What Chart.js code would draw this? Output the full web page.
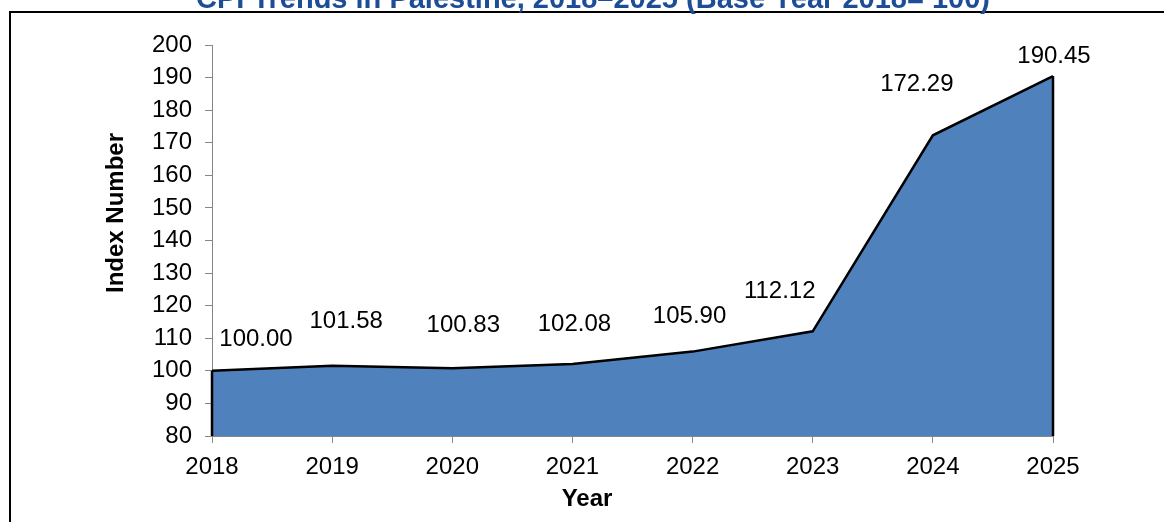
<!DOCTYPE html>
<html>
<head>
<meta charset="utf-8">
<script src="https://cdn.jsdelivr.net/npm/chart.js@4.4.1/dist/chart.umd.min.js"></script>
<style>
html,body{margin:0;padding:0;background:#ffffff;}
#wrap{width:1164px;height:522px;position:relative;overflow:hidden;}
canvas{display:block;}
</style>
</head>
<body>
<div id="wrap"><canvas id="c" width="1164" height="522"></canvas></div>
<script>
// ---- data ----
const years = ['2018','2019','2020','2021','2022','2023','2024','2025'];
const cpiValues = [100.00, 101.58, 100.83, 102.08, 105.90, 112.12, 172.29, 190.45];
const yTickMin = 80;
const yTickMax = 200;
const yTickStep = 10;
const chartTitle = 'CPI Trends in Palestine, 2018\u20132025 (Base Year 2018= 100)';
const xAxisTitle = 'Year';
const yAxisTitle = 'Index Number';

// ---- styling (label placement offsets, px relative to each point) ----
const labelOffsets = [[44,-31],[14,-44],[11,-43],[2,-40],[-3,-35],[-33,-40],[-16,-51],[1,-20]];
const FONT = "'Liberation Sans', Arial, sans-serif";

const overlay = {
  id: 'overlay',
  afterDatasetsDraw(chart) {
    const ctx = chart.ctx;
    const meta = chart.getDatasetMeta(0);
    const pts = meta.data;
    const yb = chart.scales.y.getPixelForValue(yTickMin);
    ctx.save();
    ctx.strokeStyle = '#000';
    ctx.lineWidth = 2.5;
    ctx.beginPath();
    ctx.moveTo(pts[0].x, pts[0].y);
    ctx.lineTo(pts[0].x, yb);
    ctx.moveTo(pts[pts.length-1].x, pts[pts.length-1].y);
    ctx.lineTo(pts[pts.length-1].x, yb);
    ctx.stroke();
    ctx.restore();
  },
  afterDraw(chart) {
    const ctx = chart.ctx;
    const meta = chart.getDatasetMeta(0);
    ctx.save();
    // data labels
    ctx.font = '24px ' + FONT;
    ctx.fillStyle = '#000';
    ctx.textAlign = 'center';
    ctx.textBaseline = 'middle';
    meta.data.forEach((p, i) => {
      const o = labelOffsets[i];
      ctx.fillText(cpiValues[i].toFixed(2), p.x + o[0], p.y + o[1]);
    });
    // axis titles
    ctx.font = 'bold 24px ' + FONT;
    ctx.fillText(xAxisTitle, 587, 499);
    ctx.save();
    ctx.translate(116, 213);
    ctx.rotate(-Math.PI/2);
    ctx.fillText(yAxisTitle, 0, 0);
    ctx.restore();
    // frame
    ctx.strokeStyle = '#000';
    ctx.lineWidth = 2;
    ctx.beginPath();
    ctx.moveTo(10, 522);
    ctx.lineTo(10, 12);
    ctx.lineTo(1164, 12);
    ctx.stroke();
    // main title (clipped at top)
    ctx.font = 'bold 29px ' + FONT;
    ctx.fillStyle = '#1C4D96';
    ctx.textBaseline = 'alphabetic';
    ctx.fillText(chartTitle, 593, 8);
    ctx.restore();
  }
};

new Chart(document.getElementById('c'), {
  type: 'line',
  data: {
    labels: years,
    datasets: [{
      data: cpiValues,
      fill: 'start',
      backgroundColor: '#4F81BD',
      borderColor: '#000000',
      borderWidth: 2.5,
      pointRadius: 0,
      tension: 0
    }]
  },
  options: {
    responsive: false,
    animation: false,
    devicePixelRatio: 1,
    layout: { padding: { left: 0, top: 45, right: 111, bottom: 0 } },
    plugins: { legend: { display: false }, tooltip: { enabled: false }, title: { display: false } },
    scales: {
      x: {
        type: 'category',
        offset: false,
        z: 1,
        grid: { display: true, drawOnChartArea: false, drawTicks: true, tickLength: 7, color: '#868686', lineWidth: 1 },
        border: { display: true, color: '#868686', width: 1 },
        ticks: { color: '#000', font: { family: FONT, size: 24 }, padding: 10, maxRotation: 0, autoSkip: false },
        afterFit: s => { s.height = 86; }
      },
      y: {
        min: yTickMin,
        max: yTickMax,
        grid: { display: true, drawOnChartArea: false, drawTicks: true, tickLength: 7, color: '#868686', lineWidth: 1 },
        border: { display: true, color: '#868686', width: 1 },
        ticks: { stepSize: yTickStep, color: '#000', font: { family: FONT, size: 24 }, padding: 13 },
        afterFit: s => { s.width = 212; }
      }
    }
  },
  plugins: [overlay]
});
</script>
</body>
</html>
